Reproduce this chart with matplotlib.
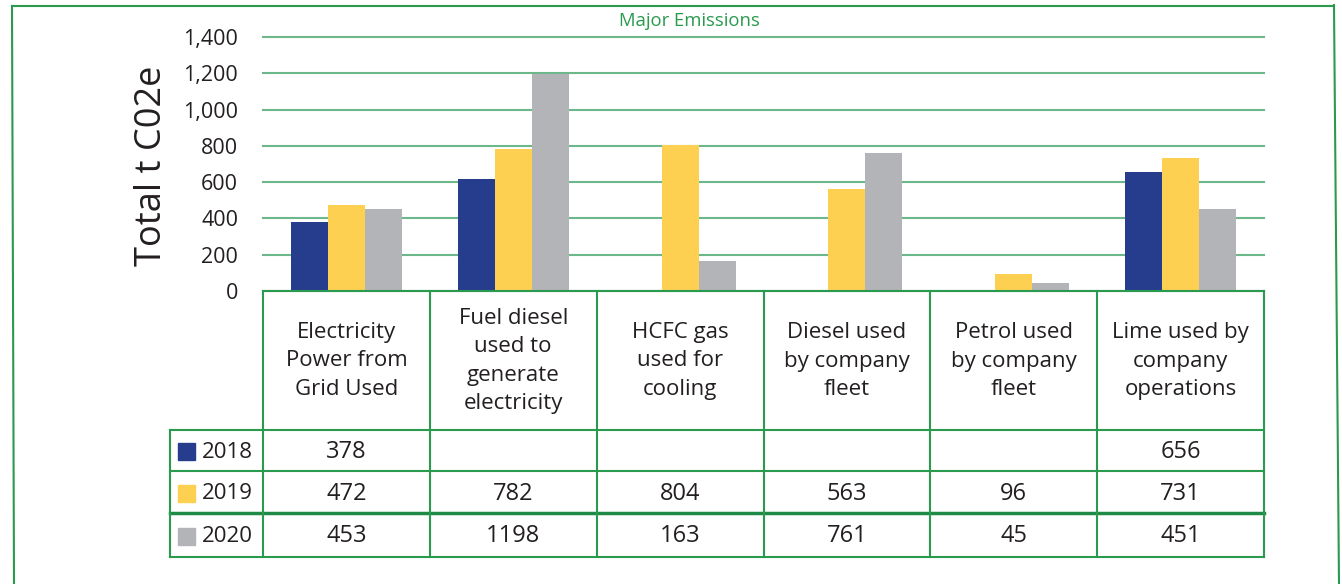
import numpy as np
import matplotlib.pyplot as plt
from matplotlib.lines import Line2D
from matplotlib.patches import Rectangle

# Data
categories = ["Electricity\nPower from\nGrid Used",
              "Fuel diesel\nused to\ngenerate\nelectricity",
              "HCFC gas\nused for\ncooling",
              "Diesel used\nby company\nfleet",
              "Petrol used\nby company\nfleet",
              "Lime used by\ncompany\noperations"]
years = ["2018", "2019", "2020"]
# bar heights (the 2018 fuel diesel bar is drawn but left blank in the table)
bars2018 = [378, 620, None, None, None, 656]
bars2019 = [472, 782, 804, 563, 96, 731]
bars2020 = [453, 1198, 163, 761, 45, 451]
# values printed in the data table
table2018 = ["378", "", "", "", "", "656"]
table2019 = ["472", "782", "804", "563", "96", "731"]
table2020 = ["453", "1198", "163", "761", "45", "451"]
yticks = [0, 200, 400, 600, 800, 1000, 1200, 1400]

colors = ['#253d8c', '#fdd052', '#b3b4b7']
green = '#2a9a4f'
grid_green = '#6cb88a'
txt = '#231f20'

plt.rcParams['font.family'] = ['Open Sans', 'DejaVu Sans']

W, H = 1342, 584
fig = plt.figure(figsize=(W / 100, H / 100), dpi=100)


def fx(px):
    return px / W


def fy(py):
    return 1 - py / H


# plot area in pixels
x0, x1, ytop, ybot = 263, 1264, 37, 291
ax = fig.add_axes([fx(x0), fy(ybot), fx(x1) - fx(x0), fy(ytop) - fy(ybot)])

series = [bars2018, bars2019, bars2020]
tables = [table2018, table2019, table2020]
n = len(categories)
x = np.arange(n)
bw = 0.222
for i, vals in enumerate(series):
    xs = [x[j] + (i - 1) * bw for j in range(n) if vals[j] is not None]
    hs = [v for v in vals if v is not None]
    ax.bar(xs, hs, width=bw, color=colors[i], zorder=3)

ax.set_xlim(-0.5, n - 0.5)
ax.set_ylim(0, 1400)
ax.set_yticks(yticks)
ax.set_yticklabels([f"{t:,}" for t in yticks], fontsize=15.5, color=txt)
ax.tick_params(axis='y', length=0, pad=18)
ax.set_xticks([])
ax.grid(axis='y', color=grid_green, lw=1.5, zorder=0)
for gl in ax.get_ygridlines():
    gl.set_clip_on(False)
for s in ax.spines.values():
    s.set_visible(False)
fig.text(fx(152), fy(166), "Total t C02e", fontsize=26, color=txt,
         rotation=90, ha='center', va='center')

fig.text(fx(689), fy(21), "Major Emissions", color=green, fontsize=13.3,
         ha='center', va='center')


def hline(y, xa, xb, lw=1.5, c=green):
    fig.add_artist(Line2D([fx(xa), fx(xb)], [fy(y), fy(y)], color=c, lw=lw))


def vline(xp, ya, yb, lw=1.5, c=green):
    fig.add_artist(Line2D([fx(xp), fx(xp)], [fy(ya), fy(yb)], color=c, lw=lw))


# outer border
hline(6, 12, 1334)
fig.add_artist(Line2D([fx(12), fx(14)], [fy(6), fy(584)], color=green, lw=1.5))
fig.add_artist(Line2D([fx(1334), fx(1339)], [fy(5), fy(584)], color=green, lw=1.5))

# data table
col_edges = np.linspace(x0, x1, n + 1)
row_edges = [430, 471, 513, 557]
lab_left = 170
hline(291, x0, x1)
for k, r in enumerate(row_edges):
    hline(r, lab_left, x1, lw=2.5 if k == 2 else 1.5, c='#1f8a45' if k == 2 else green)
for c in col_edges:
    vline(c, 291, 557)
vline(lab_left, 430, 557)

for j, cat in enumerate(categories):
    cx = (col_edges[j] + col_edges[j + 1]) / 2
    fig.text(fx(cx), fy(361), cat, ha='center', va='center', fontsize=16,
             color=txt, linespacing=1.45)

for i, vals in enumerate(tables):
    cy = (row_edges[i] + row_edges[i + 1]) / 2 + 1.5
    fig.add_artist(Rectangle((fx(178), fy(cy + 8)), fx(17), 17 / H,
                             color=colors[i], transform=fig.transFigure))
    fig.text(fx(202), fy(cy), years[i], ha='left', va='center', fontsize=16,
             color=txt)
    for j, v in enumerate(vals):
        cx = (col_edges[j] + col_edges[j + 1]) / 2
        fig.text(fx(cx), fy(cy), v, ha='center', va='center', fontsize=17,
                 color=txt)

fig.savefig("out.png", dpi=100)
